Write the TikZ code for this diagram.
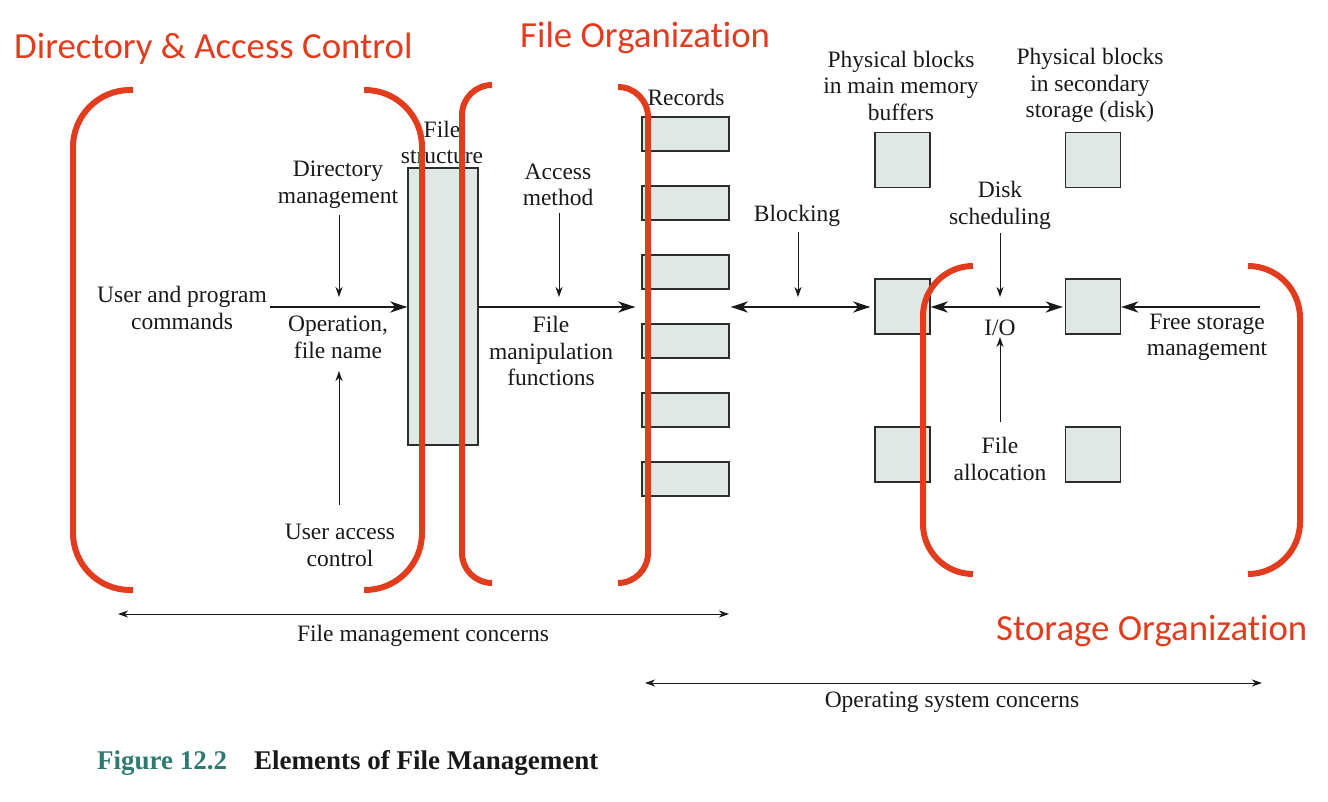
\documentclass[tikz,border=0pt]{standalone}
\usepackage{fontspec}
\setmainfont{Liberation Serif}
\newfontfamily\headfont[Ligatures={NoCommon}]{Carlito}
\usetikzlibrary{arrows.meta}
\definecolor{hred}{RGB}{226,60,30}
\definecolor{boxfill}{RGB}{224,232,229}
\definecolor{boxline}{RGB}{45,45,45}
\definecolor{tealcap}{RGB}{47,122,112}
\definecolor{ink}{RGB}{25,25,25}
\begin{document}
\begin{tikzpicture}[x=1pt,y=-1pt,
  lbl/.style={font=\fontsize{23.5}{26.5}\selectfont, align=center, inner sep=0pt, text=ink, yshift=-2.5pt},
  blk/.style={draw=boxline, fill=boxfill, line width=1.3pt, inner sep=0pt},
  recbox/.style={blk, minimum width=87pt, minimum height=34pt},
  sqbox/.style={blk, minimum width=55pt, minimum height=55pt},
  heavy/.style={draw=ink, line width=2.6pt, -{Stealth[length=17pt,width=11pt,inset=5pt]}},
  heavyboth/.style={draw=ink, line width=2.6pt, {Stealth[length=17pt,width=11pt,inset=5pt]}-{Stealth[length=17pt,width=11pt,inset=5pt]}},
  thinarr/.style={draw=ink, line width=1pt, -{Stealth[length=10pt,width=7pt,inset=3pt]}},
  spanarr/.style={draw=ink, line width=1pt, {Stealth[length=10pt,width=7pt,inset=3pt]}-{Stealth[length=10pt,width=7pt,inset=3pt]}},
  brk/.style={draw=hred, line width=6pt},
  head/.style={font=\headfont\fontsize{36.8}{40}\selectfont, text=hred, inner sep=0pt, anchor=west, yshift=-2.5pt}]
\useasboundingbox (0,0) rectangle (1328,802);

% boxes
\node[blk, minimum width=70pt, minimum height=277pt] (fs) at (443,306.5) {};
\foreach \i/\y in {1/134,2/203,3/272,4/341,5/410,6/479}
  \node[recbox] (rec\i) at (685.5,\y) {};
\foreach \i/\y in {1/160,2/306.5,3/454.5}{
  \node[sqbox] (m\i) at (902.5,\y) {};
  \node[sqbox] (s\i) at (1093,\y) {};
}

% texts
\node[lbl] (userprog) at (182,305.5) {User and program\\commands};
\node[lbl] (dirm) at (338,182.5) {Directory\\management};
\node[lbl] (opfn) at (338,335) {Operation,\\file name};
\node[lbl] (uac) at (340,543) {User access\\control};
\node[lbl] (fstr) at (442,140) {File\\structure};
\node[lbl] (accm) at (558,182.5) {Access\\method};
\node[lbl] (fmf) at (551,348.5) {File\\manipulation\\functions};
\node[lbl] (recl) at (686,95) {Records};
\node[lbl] (blkg) at (797,213) {Blocking};
\node[lbl] (pbm) at (901,83) {Physical blocks\\in main memory\\buffers};
\node[lbl] (pbs) at (1090,83) {Physical blocks\\in secondary\\storage (disk)};
\node[lbl] (disk) at (1000,203) {Disk\\scheduling};
\node[lbl] (io) at (1000,325) {I/O};
\node[lbl] (falloc) at (1000,456.5) {File\\allocation};
\node[lbl] (fsm) at (1207,335) {Free storage\\management};
\node[lbl] (fmc) at (423,633) {File management concerns};
\node[lbl] (osc) at (952,700) {Operating system concerns};

% headings
\node[head] (hdac) at (14,46) {Directory \& Access Control};
\node[head] (hfo) at (520,35) {File Organization};
\node[head] (hso) at (996,628) {Storage Organization};

% caption
\node[inner sep=0pt, anchor=west, font=\bfseries\fontsize{27}{30}\selectfont, text=ink] (cap) at (97,762.5)
  {\textcolor{tealcap}{Figure 12.2}\hspace{27pt}Elements of File Management};

% main flow
\coordinate (cmdStart) at (270,307);
\draw[heavy] (cmdStart) -- (cmdStart -| fs.west);
\draw[heavy] (fs.east |- cmdStart) -- ([xshift=-6pt]rec4.west |- cmdStart);
\draw[heavyboth] ([xshift=1pt]rec4.east |- cmdStart) -- ([xshift=-4pt]m2.west |- cmdStart);
\draw[heavyboth] (m2.east |- cmdStart) -- ([xshift=-2pt]s2.west |- cmdStart);
\coordinate (fsmStart) at (1260,307);
\draw[heavy] (fsmStart) -- (s2.east |- fsmStart);

% thin label arrows
\coordinate (dmA) at (339,215); \coordinate (dmB) at (339,297);
\draw[thinarr] (dmA) -- (dmB);
\coordinate (uaA) at (339,505); \coordinate (uaB) at (339,371);
\draw[thinarr] (uaA) -- (uaB);
\coordinate (amA) at (559,213); \coordinate (amB) at (559,297);
\draw[thinarr] (amA) -- (amB);
\coordinate (blA) at (798,232); \coordinate (blB) at (798,297);
\draw[thinarr] (blA) -- (blB);
\coordinate (dsA) at (1000,233); \coordinate (dsB) at (1000,297);
\draw[thinarr] (dsA) -- (dsB);
\coordinate (faA) at (1000,422); \coordinate (faB) at (1000,337);
\draw[thinarr] (faA) -- (faB);

% span arrows
\coordinate (fmcL) at (118,614); \coordinate (fmcR) at (729,614);
\draw[spanarr] (fmcL) -- (fmcR);
\coordinate (oscL) at (645,683); \coordinate (oscR) at (1262,683);
\draw[spanarr] (oscL) -- (oscR);

% red brackets
\draw[brk, rounded corners=57pt] (133,90) -- (73,90) -- (73,590) -- (133,590);
\draw[brk, rounded corners=57pt] (364,90) -- (422,90) -- (422,590) -- (364,590);
\draw[brk, rounded corners=30pt] (492,85) -- (462,85) -- (462,583) -- (492,583);
\draw[brk, rounded corners=30pt] (618,87) -- (648,87) -- (648,583) -- (618,583);
\draw[brk, rounded corners=50pt] (973,266) -- (923,266) -- (923,574) -- (973,574);
\draw[brk, rounded corners=52pt] (1248,266) -- (1300,266) -- (1300,574) -- (1248,574);
\end{tikzpicture}
\end{document}
